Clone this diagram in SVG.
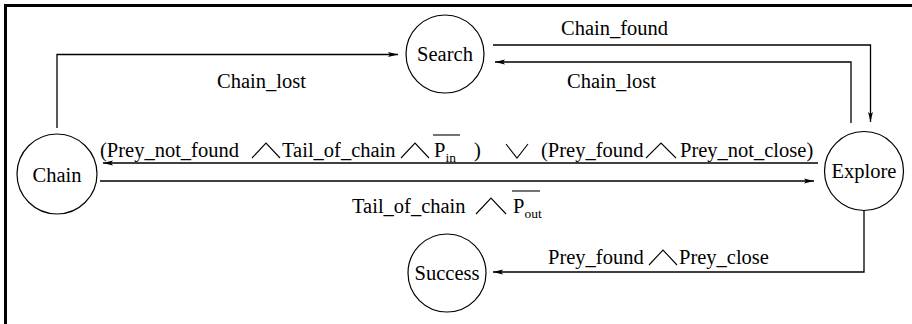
<svg xmlns="http://www.w3.org/2000/svg" width="912" height="324" viewBox="0 0 912 324">
  <defs>
    <marker id="arr" viewBox="0 0 10 6" refX="10" refY="3" markerWidth="10" markerHeight="6" markerUnits="userSpaceOnUse" orient="auto">
      <path d="M0,0.6 L10,3 L0,5.4 L2,3 z" fill="#000"/>
    </marker>
  </defs>
  <style>
    .node circle { fill: #fff; stroke: #000; stroke-width: 1.2; }
    .node text, .lbl { font-family: "Liberation Serif", "Times New Roman", serif; font-size: 20.5px; fill: #000; }
    .node text { text-anchor: middle; }
    .sub { font-size: 13.5px; }
    .edge { fill: none; stroke: #000; stroke-width: 1.3; marker-end: url(#arr); }
    .op { fill: none; stroke: #000; stroke-width: 1.1; }
    .bar { stroke: #000; stroke-width: 1.1; }
  </style>

  <rect width="912" height="324" fill="#fff"/>
  <!-- outer frame (top and left edges visible) -->
  <rect x="5.5" y="5.5" width="1000" height="1000" fill="none" stroke="#000" stroke-width="3"/>

  <!-- connectors -->
  <g id="connectors">
    <polyline class="edge" points="57,128 57,54.5 398,54.5"/>
    <polyline class="edge" points="493,45 870.5,45 870.5,122"/>
    <polyline class="edge" points="851,123 851,62 495,62"/>
    <polyline class="edge" points="818,163 103,163"/>
    <polyline class="edge" points="100,181 814,181"/>
    <polyline class="edge" points="864,211 864,272 493,272"/>
  </g>

  <!-- edge labels -->
  <g id="labels">
    <text class="lbl" x="217" y="88">Chain_lost</text>
    <text class="lbl" x="561" y="35">Chain_found</text>
    <text class="lbl" x="567" y="88">Chain_lost</text>

    <!-- Explore -> Chain condition -->
    <text class="lbl" x="100" y="157">(Prey_not_found</text>
    <polyline class="op" points="252,158 266,143 280,158"/>
    <text class="lbl" x="282" y="157">Tail_of_chain</text>
    <polyline class="op" points="401,158 415,143 429,158"/>
    <text class="lbl" x="434" y="157">P<tspan class="sub" dy="5">in</tspan></text>
    <line class="bar" x1="433" y1="135" x2="460" y2="135"/>
    <text class="lbl" x="474" y="157">)</text>
    <polyline class="op" points="506,144 517,158 528,144"/>
    <text class="lbl" x="541" y="157">(Prey_found</text>
    <polyline class="op" points="646,158 661,143 676,158"/>
    <text class="lbl" x="680" y="157">Prey_not_close)</text>

    <!-- Chain -> Explore condition -->
    <text class="lbl" x="352" y="213">Tail_of_chain</text>
    <polyline class="op" points="476,214 491,198 506,214"/>
    <text class="lbl" x="513" y="213">P<tspan class="sub" dy="5">out</tspan></text>
    <line class="bar" x1="512" y1="191" x2="540" y2="191"/>

    <!-- Explore -> Success condition -->
    <text class="lbl" x="548" y="264">Prey_found</text>
    <polyline class="op" points="649,265 663,250 677,265"/>
    <text class="lbl" x="679" y="264">Prey_close</text>
  </g>

  <!-- nodes -->
  <g id="search" class="node">
    <circle cx="445" cy="54" r="39"/>
    <text x="445" y="61">Search</text>
  </g>
  <g id="chain" class="node">
    <circle cx="57" cy="174" r="40"/>
    <text x="57" y="182">Chain</text>
  </g>
  <g id="explore" class="node">
    <circle cx="864" cy="171" r="39.5"/>
    <text x="864" y="178">Explore</text>
  </g>
  <g id="success" class="node">
    <circle cx="447" cy="273" r="39"/>
    <text x="447" y="280">Success</text>
  </g>
</svg>
